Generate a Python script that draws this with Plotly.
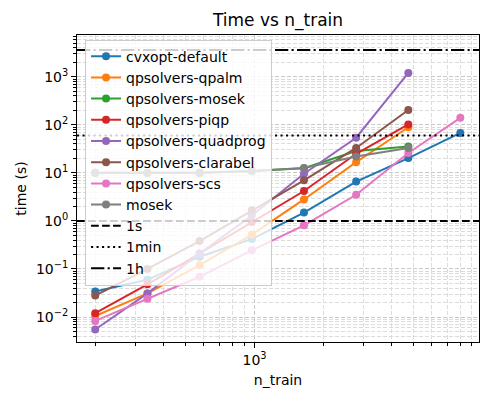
import plotly.graph_objects as go

n_train = [200, 339, 574, 973, 1648, 2792, 4730, 8000]

cvxopt_default = [0.034, 0.060, 0.18, 0.42, 1.49, 6.6, 20.3, 68]
qpsolvers_qpalm = [0.0105, 0.031, 0.12, 0.52, 2.8, 16.7, 89]
qpsolvers_mosek = [10.0, 10.0, 10.0, 11.0, 12.5, 28.5, 35.5]
qpsolvers_piqp = [0.012, 0.048, 0.21, 0.95, 4.2, 25, 102]
qpsolvers_quadprog = [0.0055, 0.031, 0.21, 1.3, 9.6, 54, 1200]
qpsolvers_clarabel = [0.028, 0.10, 0.38, 1.66, 7.0, 33, 204]
qpsolvers_scs = [0.0083, 0.024, 0.069, 0.245, 0.81, 3.5, 26, 140]
mosek = [10.2, 10.2, 10.2, 11.0, 12.6, 22, 33]

series_names = ["cvxopt-default", "qpsolvers-qpalm", "qpsolvers-mosek", "qpsolvers-piqp",
                "qpsolvers-quadprog", "qpsolvers-clarabel", "qpsolvers-scs", "mosek"]
series_values = [cvxopt_default, qpsolvers_qpalm, qpsolvers_mosek, qpsolvers_piqp,
                 qpsolvers_quadprog, qpsolvers_clarabel, qpsolvers_scs, mosek]
colors = ["#1f77b4", "#ff7f0e", "#2ca02c", "#d62728", "#9467bd", "#8c564b", "#e377c2", "#7f7f7f"]

ref_names = ["1s", "1min", "1h"]
ref_values = [1, 60, 3600]
ref_dashes = ["7.7px,3.3px", "2.1px,3.4px", "13.3px,3.3px,2.1px,3.3px"]

y_tickvals = [0.01, 0.1, 1, 10, 100, 1000]
y_ticktext = ["10<sup>\u22122</sup>", "10<sup>\u22121</sup>", "10<sup>0</sup>",
              "10<sup>1</sup>", "10<sup>2</sup>", "10<sup>3</sup>"]
x_tickvals = [1000]
x_ticktext = ["10<sup>3</sup>"]

FONT = "DejaVu Sans"
fig = go.Figure()
for i, (name, vals, c) in enumerate(zip(series_names, series_values, colors)):
    fig.add_trace(go.Scatter(
        x=n_train[:len(vals)], y=vals, name=name, mode="lines+markers",
        line=dict(color=c, width=2), marker=dict(color=c, size=8),
    ))

for j, (name, v, d) in enumerate(zip(ref_names, ref_values, ref_dashes)):
    fig.add_shape(type="line", xref="paper", x0=0, x1=1, yref="y", y0=v, y1=v,
                  line=dict(color="black", width=2, dash=d),
                  showlegend=True, name=name, layer="above")

grid_major = "#c8c8c8"
grid_minor = "#dcdcdc"
axis_common = dict(
    type="log", showline=True, mirror=True, linecolor="black", linewidth=1,
    ticks="outside", ticklen=5, tickcolor="black", tickwidth=1,
    showgrid=True, gridcolor=grid_major, griddash="4px,2px", gridwidth=1,
    zeroline=False, automargin=False,
    tickfont=dict(family=FONT, size=14, color="black"),
    minor=dict(ticks="outside", ticklen=3, tickcolor="black", showgrid=True,
               gridcolor=grid_minor, griddash="4px,2px", dtick="D1"),
)

fig.update_xaxes(**axis_common, range=[2.221, 3.985],
                 tickmode="array", tickvals=x_tickvals, ticktext=x_ticktext,
                 title=dict(text="n_train", font=dict(family=FONT, size=14, color="black"), standoff=8))
fig.update_yaxes(**axis_common, range=[-2.52, 3.87],
                 tickmode="array", tickvals=y_tickvals, ticktext=y_ticktext,
                 title=dict(text="time (s)", font=dict(family=FONT, size=14, color="black"), standoff=6))

fig.update_layout(
    width=494, height=395,
    margin=dict(l=77, r=15, t=35, b=53, autoexpand=False),
    paper_bgcolor="white", plot_bgcolor="white",
    font=dict(family=FONT, size=14, color="black"),
    title=dict(text="Time vs n_train", x=0.5, xref="paper", xanchor="center",
               y=1 - 20 / 395, yref="container", yanchor="middle", automargin=False,
               font=dict(family=FONT, size=17, color="black")),
    legend=dict(x=0.02, y=0.985, xanchor="left", yanchor="top",
                bgcolor="rgba(255,255,255,0.8)", bordercolor="#cccccc", borderwidth=1,
                font=dict(family=FONT, size=14, color="black")),
    showlegend=True,
)

fig.write_html("out.html",
               config={"displayModeBar": False},
               post_script="document.body.style.margin='0';document.body.style.padding='0';")
